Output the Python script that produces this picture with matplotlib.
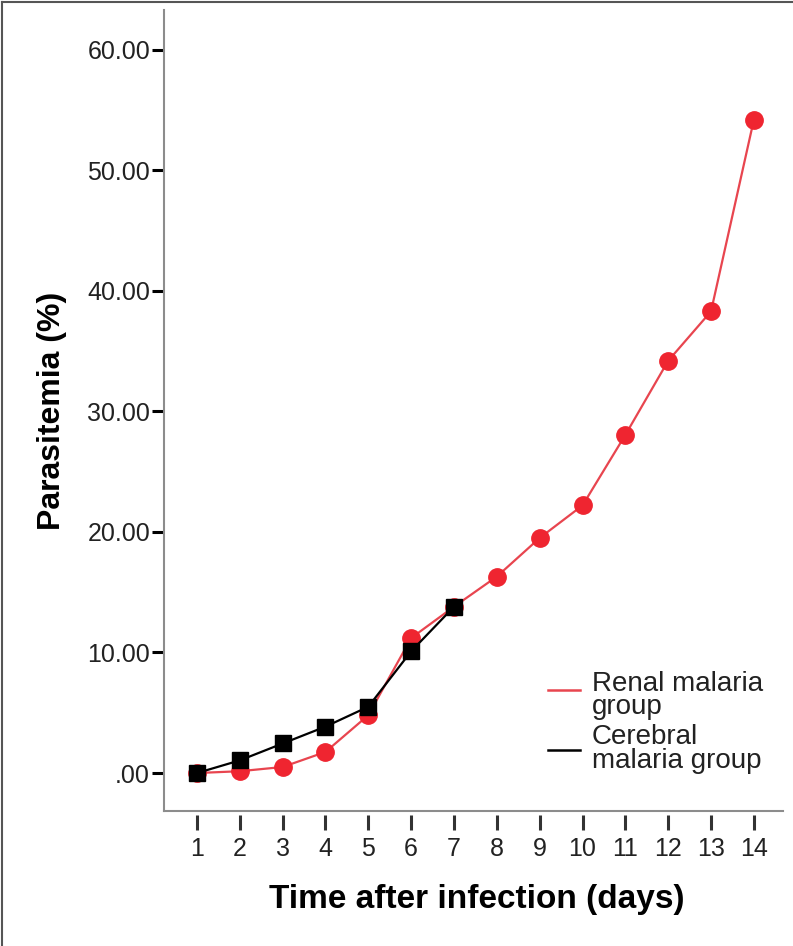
import matplotlib
matplotlib.use('Agg')
from matplotlib import pyplot as plt
from matplotlib.lines import Line2D

days = list(range(1, 15))
renal = [0.0, 0.15, 0.5, 1.75, 4.8, 11.2, 13.8, 16.3, 19.5, 22.2, 28.05, 34.2, 38.3, 54.2]
cerebral_days = list(range(1, 8))
cerebral = [0.0, 1.05, 2.45, 3.85, 5.5, 10.1, 13.8]
y_ticks = [0, 10, 20, 30, 40, 50, 60]

red = '#ef2530'
red_line = '#e8454f'

plt.rcParams['font.family'] = ['Liberation Sans', 'DejaVu Sans']

fig = plt.figure(figsize=(7.93, 9.46), dpi=100)
ax = fig.add_axes([164 / 793, 1 - 811 / 946, (783 - 164) / 793, (811 - 10) / 946])

ax.plot(days, renal, color=red_line, lw=1.6, marker='o', ms=12.5,
        mfc=red, mec=red, zorder=3)
ax.plot(cerebral_days, cerebral, color='black', lw=1.6, marker='s', ms=11,
        mfc='black', mec='black', zorder=4)

ymin, ymax = -3.15, 63.3
ax.set_xlim(0.23, 14.68)
ax.set_ylim(ymin, ymax)

ax.set_xticks(days)
ax.set_yticks(y_ticks)
ax.set_yticklabels(['.00' if v == 0 else '%.2f' % v for v in y_ticks])

for s in ['top', 'right']:
    ax.spines[s].set_visible(False)
ax.spines['left'].set_color('#8c8c8c')
ax.spines['left'].set_linewidth(1.5)
ax.spines['bottom'].set_position(('outward', 3))
ax.spines['bottom'].set_visible(False)
ax.axhline(ymin, color='#8c8c8c', lw=1.5, clip_on=False)

ax.tick_params(axis='y', direction='out', length=9, width=2.2, color='black',
               labelsize=18, pad=1, labelcolor='#222222')
ax.tick_params(axis='x', direction='out', length=10.5, width=2.2, color='#333333',
               labelsize=18, pad=5, labelcolor='#222222')

ax.set_xlabel('Time after infection (days)', fontsize=24, fontweight='bold', va='top')
ax.xaxis.set_label_coords(0.505, -0.091)
ax.set_ylabel('Parasitemia (%)', fontsize=23, fontweight='bold', va='center')
ax.yaxis.set_label_coords(-0.181, 0.5)

# legend drawn by hand
ax.plot([0.620, 0.672], [0.151, 0.151], transform=ax.transAxes, color=red_line, lw=1.8)
ax.text(0.691, 0.175, 'Renal malaria\ngroup', transform=ax.transAxes, fontsize=20,
        va='top', ha='left', linespacing=0.88, color='#222222')
ax.plot([0.620, 0.672], [0.076, 0.076], transform=ax.transAxes, color='black', lw=1.8)
ax.text(0.691, 0.108, 'Cerebral\nmalaria group', transform=ax.transAxes, fontsize=20,
        va='top', ha='left', linespacing=0.88, color='#222222')

# image border (top and left edges)
fig.lines.append(Line2D([0.0025, 0.0025], [0, 0.998], transform=fig.transFigure,
                        color='#555555', lw=1.5))
fig.lines.append(Line2D([0.0025, 1], [0.998, 0.998], transform=fig.transFigure,
                        color='#555555', lw=1.5))

fig.savefig('out.png', dpi=100)
